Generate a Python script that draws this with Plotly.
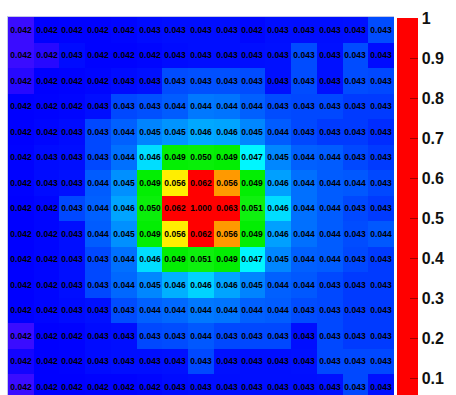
import plotly.graph_objects as go

# Grid coordinates (15 x 15 detector cells)
cols = list(range(15))
rows = list(range(15))

# Normalised response per cell, row 0 at the top
r00 = [0.0418, 0.0421, 0.0422, 0.0422, 0.0423, 0.0426, 0.0427, 0.0427, 0.0427, 0.0424, 0.0427, 0.0427, 0.0427, 0.0428, 0.0433]
r01 = [0.0418, 0.0419, 0.0426, 0.0422, 0.0422, 0.0423, 0.0426, 0.0427, 0.0427, 0.0427, 0.0428, 0.0433, 0.0428, 0.0433, 0.0426]
r02 = [0.0419, 0.0421, 0.0422, 0.0423, 0.0426, 0.0428, 0.0433, 0.0434, 0.0434, 0.0433, 0.0428, 0.0433, 0.0428, 0.0433, 0.0432]
r03 = [0.0421, 0.0422, 0.0423, 0.0427, 0.0432, 0.0434, 0.0437, 0.0444, 0.0443, 0.0438, 0.0433, 0.0432, 0.0432, 0.0431, 0.0431]
r04 = [0.0421, 0.0423, 0.0426, 0.0432, 0.0438, 0.0448, 0.0453, 0.0458, 0.0457, 0.0449, 0.0437, 0.0432, 0.0431, 0.0431, 0.0430]
r05 = [0.0422, 0.0426, 0.0427, 0.0432, 0.0442, 0.0464, 0.0492, 0.0498, 0.0490, 0.0468, 0.0449, 0.0438, 0.0437, 0.0432, 0.0431]
r06 = [0.0422, 0.0426, 0.0428, 0.0437, 0.0452, 0.0489, 0.0557, 0.0620, 0.0562, 0.0490, 0.0456, 0.0442, 0.0437, 0.0436, 0.0432]
r07 = [0.0421, 0.0423, 0.0432, 0.0438, 0.0457, 0.0500, 0.0620, 1.0000, 0.0625, 0.0508, 0.0464, 0.0442, 0.0437, 0.0432, 0.0431]
r08 = [0.0421, 0.0423, 0.0427, 0.0437, 0.0452, 0.0490, 0.0557, 0.0620, 0.0562, 0.0489, 0.0456, 0.0442, 0.0437, 0.0433, 0.0436]
r09 = [0.0421, 0.0423, 0.0427, 0.0432, 0.0442, 0.0464, 0.0490, 0.0505, 0.0490, 0.0468, 0.0449, 0.0438, 0.0437, 0.0432, 0.0431]
r10 = [0.0421, 0.0423, 0.0427, 0.0432, 0.0440, 0.0449, 0.0460, 0.0463, 0.0457, 0.0448, 0.0438, 0.0436, 0.0432, 0.0431, 0.0431]
r11 = [0.0421, 0.0423, 0.0426, 0.0428, 0.0433, 0.0438, 0.0440, 0.0444, 0.0443, 0.0438, 0.0437, 0.0433, 0.0432, 0.0431, 0.0431]
r12 = [0.0418, 0.0421, 0.0422, 0.0426, 0.0427, 0.0432, 0.0433, 0.0436, 0.0432, 0.0432, 0.0432, 0.0427, 0.0432, 0.0431, 0.0431]
r13 = [0.0420, 0.0421, 0.0422, 0.0426, 0.0427, 0.0427, 0.0428, 0.0432, 0.0428, 0.0427, 0.0427, 0.0428, 0.0432, 0.0432, 0.0432]
r14 = [0.0418, 0.0421, 0.0421, 0.0422, 0.0422, 0.0423, 0.0426, 0.0427, 0.0427, 0.0427, 0.0427, 0.0427, 0.0428, 0.0432, 0.0428]

z = [r00, r01, r02, r03, r04, r05, r06, r07, r08, r09, r10, r11, r12, r13, r14]

# Colour bar ticks
cbar_ticks = [0.1, 0.2, 0.3, 0.4, 0.5, 0.6, 0.7, 0.8, 0.9, 1]
cbar_labels = ["0.1", "0.2", "0.3", "0.4", "0.5", "0.6", "0.7", "0.8", "0.9", "1"]

# Jet-like scale squeezed into the low end; everything above ~0.057 saturates to red
scale = [
    [0.0, "#3a0cff"],
    [0.0418, "#3a0cff"],
    [0.0421, "#0000ff"],
    [0.0428, "#0010ff"],
    [0.0432, "#0048ff"],
    [0.0438, "#0060ff"],
    [0.0444, "#0078ff"],
    [0.0452, "#0090ff"],
    [0.0460, "#00b0ff"],
    [0.0465, "#00e8ff"],
    [0.0470, "#00ffff"],
    [0.0485, "#00ee00"],
    [0.0510, "#10f010"],
    [0.0550, "#e8ff00"],
    [0.0556, "#ffff00"],
    [0.0562, "#ff9900"],
    [0.0566, "#ff0000"],
    [1.0, "#ff0000"],
]

fig = go.Figure(
    go.Heatmap(
        x=cols,
        y=rows,
        z=z,
        zmin=0,
        zmax=1,
        colorscale=scale,
        texttemplate="%{z:.3f}",
        textfont=dict(size=8.5, color="#000000", family="Liberation Sans", weight="bold"),
        xgap=0,
        ygap=0,
        colorbar=dict(
            x=1.0,
            xref="paper",
            xanchor="left",
            xpad=3,
            y=1.0 - 1.0 / 378,
            yanchor="top",
            ypad=0,
            lenmode="pixels",
            len=400,
            thickness=21,
            outlinewidth=0,
            tickmode="array",
            tickvals=cbar_ticks,
            ticktext=cbar_labels,
            ticks="inside",
            ticklen=8,
            tickwidth=1,
            tickcolor="#a00000",
            tickfont=dict(size=16, color="#111111", family="Liberation Sans", weight="bold"),
        ),
    )
)

fig.update_xaxes(
    range=[-0.5, 14.5],
    showticklabels=False,
    ticks="",
    showgrid=False,
    zeroline=False,
    showline=True,
    linecolor="#c4c8e4",
    linewidth=1,
    mirror=False,
    side="top",
)
fig.update_yaxes(
    range=[14.32, -0.5],
    showticklabels=False,
    ticks="",
    showgrid=False,
    zeroline=False,
    showline=True,
    linecolor="#c4c8e4",
    linewidth=1,
)

fig.update_layout(
    width=456,
    height=395,
    margin=dict(l=8, r=52, t=17, b=0),
    paper_bgcolor="white",
    plot_bgcolor="white",
)

fig.write_html("out.html")
